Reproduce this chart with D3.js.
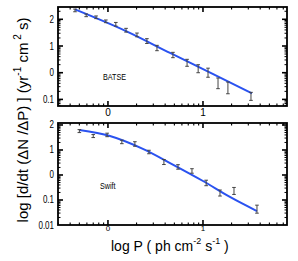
<!DOCTYPE html>
<html>
<head>
<meta charset="utf-8">
<script src="https://cdn.jsdelivr.net/npm/d3@7"></script>
<style>
  body { margin: 0; background: #fff; }
  svg { display: block; font-family: "Liberation Sans", Arial, sans-serif; }
</style>
</head>
<body>
<svg id="chart" width="298" height="261"></svg>
<script>
// BATSE panel
const batseP    = [0.45, 0.59, 0.75, 0.95, 1.21, 1.55, 2.02, 2.57, 3.28, 4.83, 6.8, 8.9, 11.3, 14.4, 18.3, 32];
const batseRate = [215, 141, 119, 84, 65, 39, 26, 15.3, 8.4, 4.6, 2.35, 1.41, 1.0, 0.40, 0.27, 0.13];
const batseErr  = [0.05, 0.05, 0.05, 0.05, 0.07, 0.07, 0.07, 0.09, 0.1, 0.1, 0.13, 0.15, 0.17, 0.2, 0.22, 0.15]; // dex
const batseFitP    = [0.45, 1.55, 4.5, 11.9, 32.8];
const batseFitRate = [234, 36, 5.5, 1.0, 0.167];

// Swift panel
const swiftP    = [0.50, 0.70, 0.98, 1.40, 1.92, 2.70, 3.88, 5.46, 7.66, 10.8, 15.1, 21.2, 37];
const swiftRate = [57, 36, 40, 21, 17.4, 8.3, 3.3, 2.1, 1.45, 0.48, 0.19, 0.23, 0.043];
const swiftErr  = [0.06, 0.06, 0.07, 0.07, 0.09, 0.07, 0.1, 0.09, 0.09, 0.11, 0.12, 0.14, 0.16]; // dex
const swiftFitP    = [0.50, 1.05, 2.33, 4.5, 10.0, 19.2, 37];
const swiftFitRate = [63, 36, 11, 3.0, 0.575, 0.132, 0.036];

const xTicks = [1, 10];
const xTickLabels = ["0", "1"];
const yTicksTop = [100, 10, 1, 0.1];
const yTickLabelsTop = ["2", "1", "0", "0.1"];
const yTicksBot = [100, 10, 1, 0.1, 0.01];
const yTickLabelsBot = ["2", "1", "0", "0.1", "0.01"];

const svg = d3.select('#chart');

const x = d3.scaleLog().domain([0.298, 76.6]).range([58, 287]);

const panels = [
  { name: 'BATSE', P: batseP, R: batseRate, E: batseErr, fP: batseFitP, fR: batseFitRate,
    y: d3.scaleLog().domain([0.0566, 289]).range([106, 7]),
    ticks: yTicksTop, labels: yTickLabelsTop, textX: 103, textY: 80, xLabelY: 116, xLabelSize: 10 },
  { name: 'Swift', P: swiftP, R: swiftRate, E: swiftErr, fP: swiftFitP, fR: swiftFitRate,
    y: d3.scaleLog().domain([0.01, 120]).range([225, 123]),
    ticks: yTicksBot, labels: yTickLabelsBot, textX: 100, textY: 189, xLabelY: 231, xLabelSize: 8 }
];

// minor tick values on a log axis within a domain
const logMinor = (dom) => {
  const out = [];
  for (let e = -3; e <= 3; e++) {
    for (let m = 1; m < 10; m++) {
      const v = m * Math.pow(10, e);
      if (v >= dom[0] * 1.0001 && v <= dom[1] / 1.0001) out.push(v);
    }
  }
  return out;
};

panels.forEach(p => {
  const y = p.y;
  const [x0, x1] = x.range();
  const [y1, y0] = y.range();
  const g = svg.append('g');

  // ticks, inward on all sides
  const xMinor = logMinor(x.domain());
  xMinor.forEach(v => {
    const major = xTicks.includes(v);
    const len = major ? 5 : 2.5;
    g.append('line').attr('x1', x(v)).attr('x2', x(v)).attr('y1', y1).attr('y2', y1 - len)
      .attr('stroke', '#000').attr('stroke-width', major ? 1.6 : 1.1);
    g.append('line').attr('x1', x(v)).attr('x2', x(v)).attr('y1', y0).attr('y2', y0 + len)
      .attr('stroke', '#000').attr('stroke-width', major ? 1.6 : 1.1);
  });
  const yMinor = logMinor(y.domain());
  yMinor.forEach(v => {
    const major = p.ticks.includes(v);
    const len = major ? 5 : 2.5;
    g.append('line').attr('x1', x0).attr('x2', x0 + len).attr('y1', y(v)).attr('y2', y(v))
      .attr('stroke', '#000').attr('stroke-width', major ? 1.6 : 1);
    g.append('line').attr('x1', x1).attr('x2', x1 - len).attr('y1', y(v)).attr('y2', y(v))
      .attr('stroke', '#000').attr('stroke-width', major ? 1.6 : 1);
  });

  // frame
  g.append('rect').attr('x', x0).attr('y', y0).attr('width', x1 - x0).attr('height', y1 - y0)
    .attr('fill', 'none').attr('stroke', '#000').attr('stroke-width', 1.8);

  // y tick labels
  p.ticks.forEach((v, i) => {
    g.append('text').attr('text-anchor', 'end')
      .attr('transform', `translate(${x0 - 4},${y(v) + 3.5}) scale(0.8,1)`)
      .attr('font-size', 10).text(p.labels[i]);
  });
  // x tick labels
  xTicks.forEach((v, i) => {
    g.append('text').attr('x', x(v)).attr('y', p.xLabelY).attr('text-anchor', 'middle')
      .attr('font-size', p.xLabelSize).text(xTickLabels[i]);
  });

  // fit line
  const line = d3.line().x(d => x(d[0])).y(d => y(d[1])).curve(d3.curveMonotoneX);
  g.append('path').datum(p.fP.map((v, i) => [v, p.fR[i]]))
    .attr('d', line).attr('fill', 'none').attr('stroke', '#2a52f0').attr('stroke-width', 2);

  // error bars
  const pts = p.P.map((v, i) => ({ P: v, R: p.R[i], e: p.E[i] }));
  const eb = g.selectAll('g.eb').data(pts).enter().append('g').attr('class', 'eb')
    .attr('stroke', '#444').attr('stroke-width', 1);
  eb.append('line').attr('x1', d => x(d.P)).attr('x2', d => x(d.P))
    .attr('y1', d => y(d.R * Math.pow(10, d.e))).attr('y2', d => y(d.R / Math.pow(10, d.e)));
  eb.append('line').attr('x1', d => x(d.P) - 1.8).attr('x2', d => x(d.P) + 1.8)
    .attr('y1', d => y(d.R * Math.pow(10, d.e))).attr('y2', d => y(d.R * Math.pow(10, d.e)));
  eb.append('line').attr('x1', d => x(d.P) - 1.8).attr('x2', d => x(d.P) + 1.8)
    .attr('y1', d => y(d.R / Math.pow(10, d.e))).attr('y2', d => y(d.R / Math.pow(10, d.e)));

  // panel name
  g.append('text').attr('transform', `translate(${p.textX},${p.textY}) scale(0.8,1)`)
    .attr('font-size', 9).text(p.name);
});

// axis titles
const xt = svg.append('text').attr('x', 111).attr('y', 251).attr('font-size', 14);
xt.append('tspan').text('log P ( ph cm');
xt.append('tspan').attr('dy', -7).attr('font-size', 9).text('-2');
xt.append('tspan').attr('dy', 7).text(' s');
xt.append('tspan').attr('dy', -7).attr('font-size', 9).text('-1');
xt.append('tspan').attr('dy', 7).text(' )');

const yt = svg.append('text').attr('transform', 'translate(28,120) rotate(-90)')
  .attr('text-anchor', 'middle').attr('font-size', 15);
yt.append('tspan').text('log [d/dt (\u0394N /\u0394P) ] (yr');
yt.append('tspan').attr('dy', -7).attr('font-size', 10).text('-1');
yt.append('tspan').attr('dy', 7).text(' cm');
yt.append('tspan').attr('dy', -7).attr('font-size', 10).text(' 2');
yt.append('tspan').attr('dy', 7).text(' s)');
</script>
</body>
</html>
